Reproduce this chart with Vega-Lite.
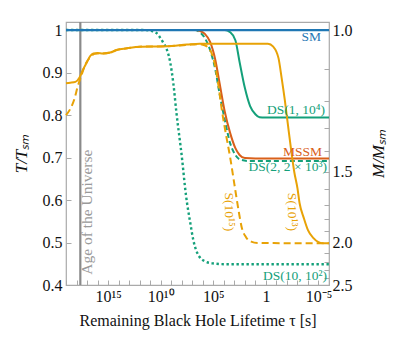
{
  "$schema": "https://vega.github.io/schema/vega-lite/v6.json",
  "width": 263,
  "height": 263,
  "autosize": {"type": "none"},
  "padding": {"left": 66, "top": 22, "right": 66, "bottom": 55},
  "background": "white",
  "config": {
    "view": {"stroke": "#aaaaaa", "strokeWidth": 1.2},
    "font": "Liberation Serif",
    "axis": {"labelFont": "Liberation Serif", "titleFont": "Liberation Serif"}
  },
  "datasets": {
    "curves": [
      {"s":"DS10","tau":1e19,"T":1},{"s":"DS10","tau":3.16e11,"T":1},{"s":"DS10","tau":7.94e10,"T":0.998},{"s":"DS10","tau":2.51e10,"T":0.993},{"s":"DS10","tau":1.26e10,"T":0.984},{"s":"DS10","tau":6.3e9,"T":0.972},{"s":"DS10","tau":2.51e9,"T":0.953},{"s":"DS10","tau":1.26e9,"T":0.925},{"s":"DS10","tau":6.3e8,"T":0.875},{"s":"DS10","tau":3.16e8,"T":0.805},{"s":"DS10","tau":1e8,"T":0.704},{"s":"DS10","tau":3.98e7,"T":0.612},{"s":"DS10","tau":1.58e7,"T":0.548},{"s":"DS10","tau":7.94e6,"T":0.506},{"s":"DS10","tau":3.98e6,"T":0.48},{"s":"DS10","tau":2e6,"T":0.466},{"s":"DS10","tau":6.3e5,"T":0.456},{"s":"DS10","tau":1.26e5,"T":0.451},{"s":"DS10","tau":7.94e3,"T":0.449},{"s":"DS10","tau":1e-6,"T":0.449},
      {"s":"DS1","tau":1e19,"T":1},{"s":"DS1","tau":7.94e3,"T":1},{"s":"DS1","tau":2.51e3,"T":0.995},{"s":"DS1","tau":794,"T":0.976},{"s":"DS1","tau":316,"T":0.925},{"s":"DS1","tau":100,"T":0.864},{"s":"DS1","tau":31.6,"T":0.821},{"s":"DS1","tau":10,"T":0.802},{"s":"DS1","tau":4,"T":0.795},{"s":"DS1","tau":1.26,"T":0.794},{"s":"DS1","tau":1e-6,"T":0.794},
      {"s":"DS2","tau":1e19,"T":1},{"s":"DS2","tau":5e6,"T":1},{"s":"DS2","tau":2e6,"T":0.995},{"s":"DS2","tau":6.3e5,"T":0.981},{"s":"DS2","tau":2e5,"T":0.953},{"s":"DS2","tau":6.3e4,"T":0.906},{"s":"DS2","tau":2.51e4,"T":0.85},{"s":"DS2","tau":7.94e3,"T":0.788},{"s":"DS2","tau":2.51e3,"T":0.734},{"s":"DS2","tau":794,"T":0.706},{"s":"DS2","tau":316,"T":0.696},{"s":"DS2","tau":50,"T":0.692},{"s":"DS2","tau":1e-6,"T":0.692},
      {"s":"MSSM","tau":1e19,"T":1},{"s":"MSSM","tau":5e6,"T":1},{"s":"MSSM","tau":2e6,"T":0.998},{"s":"MSSM","tau":6.3e5,"T":0.991},{"s":"MSSM","tau":2e5,"T":0.972},{"s":"MSSM","tau":6.3e4,"T":0.929},{"s":"MSSM","tau":2.51e4,"T":0.875},{"s":"MSSM","tau":7.94e3,"T":0.807},{"s":"MSSM","tau":2.51e3,"T":0.758},{"s":"MSSM","tau":794,"T":0.722},{"s":"MSSM","tau":316,"T":0.706},{"s":"MSSM","tau":100,"T":0.699},{"s":"MSSM","tau":10,"T":0.698},{"s":"MSSM","tau":1e-6,"T":0.698},
      {"s":"S13","tau":1e19,"T":0.875},{"s":"S13","tau":3.98e18,"T":0.876},{"s":"S13","tau":1.26e18,"T":0.878},{"s":"S13","tau":5e17,"T":0.889},{"s":"S13","tau":2.51e17,"T":0.906},{"s":"S13","tau":1e17,"T":0.925},{"s":"S13","tau":5e16,"T":0.939},{"s":"S13","tau":2.51e16,"T":0.945},{"s":"S13","tau":1e16,"T":0.946},{"s":"S13","tau":3.16e15,"T":0.945},{"s":"S13","tau":6.3e14,"T":0.947},{"s":"S13","tau":1.58e14,"T":0.953},{"s":"S13","tau":1.58e13,"T":0.957},{"s":"S13","tau":1e12,"T":0.961},{"s":"S13","tau":2.51e9,"T":0.962},{"s":"S13","tau":3.16e7,"T":0.966},{"s":"S13","tau":2e6,"T":0.968},{"s":"S13","tau":0.631,"T":0.968},{"s":"S13","tau":0.2,"T":0.961},{"s":"S13","tau":0.0631,"T":0.934},{"s":"S13","tau":0.0316,"T":0.887},{"s":"S13","tau":0.0158,"T":0.835},{"s":"S13","tau":7.94e-3,"T":0.776},{"s":"S13","tau":3.98e-3,"T":0.718},{"s":"S13","tau":2e-3,"T":0.666},{"s":"S13","tau":1e-3,"T":0.628},{"s":"S13","tau":6.3e-4,"T":0.593},{"s":"S13","tau":2.51e-4,"T":0.558},{"s":"S13","tau":1e-4,"T":0.529},{"s":"S13","tau":3.16e-5,"T":0.511},{"s":"S13","tau":1e-5,"T":0.501},{"s":"S13","tau":3.16e-6,"T":0.498},{"s":"S13","tau":1e-6,"T":0.498},
      {"s":"S15","tau":1e19,"T":0.8},{"s":"S15","tau":3.98e18,"T":0.814},{"s":"S15","tau":1.58e18,"T":0.838},{"s":"S15","tau":7.94e17,"T":0.866},{"s":"S15","tau":3.16e17,"T":0.896},{"s":"S15","tau":1.26e17,"T":0.922},{"s":"S15","tau":5e16,"T":0.936},{"s":"S15","tau":2e16,"T":0.944},{"s":"S15","tau":1e16,"T":0.945},{"s":"S15","tau":3.16e15,"T":0.945},{"s":"S15","tau":6.3e14,"T":0.947},{"s":"S15","tau":1.58e14,"T":0.953},{"s":"S15","tau":1.58e13,"T":0.957},{"s":"S15","tau":1e12,"T":0.961},{"s":"S15","tau":2.51e9,"T":0.962},{"s":"S15","tau":3.16e7,"T":0.965},{"s":"S15","tau":2e6,"T":0.967},{"s":"S15","tau":6.3e5,"T":0.964},{"s":"S15","tau":2e5,"T":0.953},{"s":"S15","tau":7.94e4,"T":0.925},{"s":"S15","tau":3.16e4,"T":0.868},{"s":"S15","tau":1.58e4,"T":0.814},{"s":"S15","tau":6.3e3,"T":0.755},{"s":"S15","tau":2.51e3,"T":0.701},{"s":"S15","tau":1e3,"T":0.638},{"s":"S15","tau":398,"T":0.576},{"s":"S15","tau":200,"T":0.536},{"s":"S15","tau":79.4,"T":0.513},{"s":"S15","tau":25.1,"T":0.502},{"s":"S15","tau":6.3,"T":0.499},{"s":"S15","tau":1e-6,"T":0.498},
      {"s":"SM","tau":1e19,"T":1},{"s":"SM","tau":1e-6,"T":1}
    ],
    "labels": [
      {"s":"SM","label":"SM","tau":5.8e-6,"T":0.984},
      {"s":"DS1","label":"DS(1, 10⁴)","tau":2.4e-6,"T":0.812},
      {"s":"MSSM","label":"MSSM","tau":4.7e-6,"T":0.714},
      {"s":"DS2","label":"DS(2, 2 × 10³)","tau":1.55e-6,"T":0.678},
      {"s":"DS10","label":"DS(10, 10²)","tau":1.55e-6,"T":0.421}
    ],
    "rotlabels": [
      {"s":"S15","label":"S(10¹⁵)","tau":3.2e3,"T":0.572},
      {"s":"S13","label":"S(10¹³)","tau":2.95e-3,"T":0.572}
    ],
    "age": [
      {"label":"Age of the Universe","tau":4.35e17,"T":0.424}
    ],
    "agetext": [
      {"label":"Age of the Universe","tau":1e17,"T":0.424}
    ]
  },
  "layer": [
    {
      "layer": [
        {
          "data": {"name": "age"},
          "mark": {"type": "rule", "color": "#8a8a8a", "strokeWidth": 2.2},
          "encoding": {
            "x": {
              "field": "tau", "type": "quantitative",
              "scale": {"type": "log", "domain": [1e-6, 1e19], "reverse": true, "nice": false},
              "axis": {
                "values": [1e19,1e18,1e17,1e16,1e15,1e14,1e13,1e12,1e11,1e10,1e9,1e8,1e7,1e6,1e5,1e4,1e3,100,10,1,0.1,0.01,0.001,1e-4,1e-5,1e-6],
                "labelExpr": "round(log(datum.value)/LN10) == 15 ? '10¹⁵' : round(log(datum.value)/LN10) == 10 ? '10¹⁰' : round(log(datum.value)/LN10) == 5 ? '10⁵' : round(log(datum.value)/LN10) == 0 ? '1' : round(log(datum.value)/LN10) == -5 ? '10⁻⁵' : ''",
                "title": "Remaining Black Hole Lifetime τ [s]",
                "domain": false, "grid": false,
                "tickSize": -5, "tickColor": "#aaaaaa", "tickWidth": 1,
                "labelFontSize": 16, "labelColor": "#111111", "labelFont": "Liberation Serif",
                "labelPadding": 8, "labelOverlap": false, "labelFlush": false,
                "titleFont": "Liberation Serif", "titleFontSize": 16, "titleFontWeight": "normal", "titleColor": "#111111",
                "titlePadding": 8
              }
            }
          }
        },
        {
          "data": {"name": "curves"},
          "transform": [{"filter": "datum.s == 'DS10'"}],
          "mark": {"type": "line", "color": "#14a07a", "strokeWidth": 2.4, "strokeDash": [2.4, 2.6], "interpolate": "monotone"},
          "encoding": {
            "x": {"field": "tau", "type": "quantitative"},
            "y": {
              "field": "T", "type": "quantitative",
              "scale": {"domain": [0.4, 1.019], "nice": false, "zero": false},
              "axis": {
                "values": [0.4, 0.5, 0.6, 0.7, 0.8, 0.9, 1],
                "labelExpr": "datum.value > 0.99 ? '1' : format(datum.value, '.1f')",
                "title": "T/Tₛₘ",
                "domain": false, "grid": false,
                "tickSize": -5, "tickColor": "#aaaaaa",
                "labelFontSize": 16, "labelColor": "#111111", "labelFont": "Liberation Serif",
                "labelPadding": 9,
                "titleFont": "Liberation Serif", "titleFontSize": 17, "titleFontWeight": "normal", "titleFontStyle": "italic", "titleColor": "#111111",
                "titlePadding": 12
              }
            },
            "order": {"field": "tau", "sort": "descending"}
          }
        },
        {
          "data": {"name": "curves"},
          "transform": [{"filter": "datum.s == 'DS1'"}],
          "mark": {"type": "line", "color": "#14a07a", "strokeWidth": 2, "interpolate": "monotone"},
          "encoding": {
            "x": {"field": "tau", "type": "quantitative"},
            "y": {"field": "T", "type": "quantitative"},
            "order": {"field": "tau", "sort": "descending"}
          }
        },
        {
          "data": {"name": "curves"},
          "transform": [{"filter": "datum.s == 'DS2'"}],
          "mark": {"type": "line", "color": "#14a07a", "strokeWidth": 2, "strokeDash": [5, 3], "interpolate": "monotone"},
          "encoding": {
            "x": {"field": "tau", "type": "quantitative"},
            "y": {"field": "T", "type": "quantitative"},
            "order": {"field": "tau", "sort": "descending"}
          }
        },
        {
          "data": {"name": "curves"},
          "transform": [{"filter": "datum.s == 'MSSM'"}],
          "mark": {"type": "line", "color": "#d9601a", "strokeWidth": 2, "interpolate": "monotone"},
          "encoding": {
            "x": {"field": "tau", "type": "quantitative"},
            "y": {"field": "T", "type": "quantitative"},
            "order": {"field": "tau", "sort": "descending"}
          }
        },
        {
          "data": {"name": "curves"},
          "transform": [{"filter": "datum.s == 'S15'"}],
          "mark": {"type": "line", "color": "#e8a206", "strokeWidth": 2, "strokeDash": [7, 4], "interpolate": "monotone"},
          "encoding": {
            "x": {"field": "tau", "type": "quantitative"},
            "y": {"field": "T", "type": "quantitative"},
            "order": {"field": "tau", "sort": "descending"}
          }
        },
        {
          "data": {"name": "curves"},
          "transform": [{"filter": "datum.s == 'S13'"}],
          "mark": {"type": "line", "color": "#e8a206", "strokeWidth": 2, "interpolate": "monotone"},
          "encoding": {
            "x": {"field": "tau", "type": "quantitative"},
            "y": {"field": "T", "type": "quantitative"},
            "order": {"field": "tau", "sort": "descending"}
          }
        },
        {
          "data": {"name": "labels"},
          "mark": {"type": "text", "font": "Liberation Serif", "fontSize": 13.5, "align": "right", "baseline": "middle"},
          "encoding": {
            "x": {"field": "tau", "type": "quantitative"},
            "y": {"field": "T", "type": "quantitative"},
            "text": {"field": "label"},
            "color": {"field": "s", "type": "nominal", "legend": null,
              "scale": {"domain": ["SM", "DS1", "MSSM", "DS2", "DS10", "S15", "S13"], "range": ["#1f77b4", "#14a07a", "#d9601a", "#14a07a", "#14a07a", "#e8a206", "#e8a206"]}}
          }
        },
        {
          "data": {"name": "rotlabels"},
          "mark": {"type": "text", "font": "Liberation Serif", "fontSize": 13.5, "align": "center", "baseline": "middle", "angle": 90, "color": "#e8a206"},
          "encoding": {
            "x": {"field": "tau", "type": "quantitative"},
            "y": {"field": "T", "type": "quantitative"},
            "text": {"field": "label"}
          }
        },
        {
          "data": {"name": "agetext"},
          "mark": {"type": "text", "font": "Liberation Serif", "fontSize": 15.5, "align": "left", "baseline": "middle", "angle": 270, "color": "#9a9a9a"},
          "encoding": {
            "x": {"field": "tau", "type": "quantitative"},
            "y": {"field": "T", "type": "quantitative"},
            "text": {"field": "label"}
          }
        }
      ]
    },
    {
      "data": {"name": "curves"},
      "transform": [{"filter": "datum.s == 'SM'"}],
      "mark": {"type": "line", "color": "#1f77b4", "strokeWidth": 2.2},
      "encoding": {
        "x": {"field": "tau", "type": "quantitative"},
        "y": {
          "field": "T", "type": "quantitative",
          "axis": {
            "orient": "right",
            "values": [1, 0.909091, 0.833333, 0.769231, 0.714286, 0.666667, 0.625, 0.588235, 0.555556, 0.526316, 0.5, 0.47619, 0.454545, 0.434783, 0.416667, 0.4],
            "labelExpr": "round(10/datum.value) % 5 == 0 ? format(1/datum.value, '.1f') : ''",
            "title": "M/Mₛₘ",
            "titleAngle": 270,
            "titleBaseline": "top",
            "domain": false, "grid": false,
            "tickSize": -5, "tickColor": "#aaaaaa",
            "labelFontSize": 16, "labelColor": "#111111", "labelFont": "Liberation Serif",
            "labelPadding": 8, "labelOverlap": false, "labelFlush": false,
            "titleFont": "Liberation Serif", "titleFontSize": 17, "titleFontWeight": "normal", "titleFontStyle": "italic", "titleColor": "#111111",
            "titlePadding": 18
          }
        }
      }
    }
  ],
  "resolve": {"axis": {"y": "independent"}}
}
